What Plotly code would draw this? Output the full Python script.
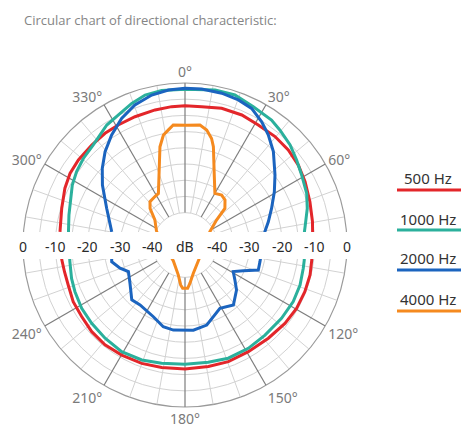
import plotly.graph_objects as go

# ---------------- data (angle in degrees clockwise from 0°, level in dB) ----------------
series_names = ["500 Hz", "1000 Hz", "2000 Hz", "4000 Hz"]
series_colors = ["#e3262a", "#2bb09c", "#1b64bf", "#f58a1f"]

red_theta = [276.1, 286.6, 295.3, 301.9, 308.6, 317.0, 324.4, 330.9, 338.7, 347.5, 354.5, 0, 6.9, 15.0,
             23.6, 31.4, 39.7, 47.4, 54.8, 62.2, 70.9, 79.6, 84.0, 96.8, 103.5, 111.3, 119.6, 128.1,
             138.2, 149.3, 159.6, 169.1, 180, 190.8, 200.1, 209.9, 218.7, 227.1, 235.3, 243.1, 251.1,
             257.5, 263.1, 276.1]
red_db = [-11.2, -10.3, -9.0, -8.2, -7.9, -7.8, -7.6, -7.6, -7.5, -7.3, -7.1, -7.0, -7.0, -6.3,
          -6.2, -6.6, -6.5, -6.7, -7.2, -8.1, -9.2, -10.0, -10.4, -10.6, -10.3, -10.3, -10.4, -10.8,
          -11.4, -11.7, -11.6, -11.8, -11.7, -11.5, -11.1, -10.8, -10.5, -10.7, -11.2, -11.3, -11.9,
          -11.9, -11.7, -11.2]

teal_theta = [276.5, 284.5, 298.0, 304.1, 310.4, 317.5, 326.9, 332.9, 339.4, 345.1, 351.4, 0, 11.0, 18.4,
              26.3, 34.7, 39.6, 46.4, 52.7, 59.0, 67.0, 73.3, 81.3, 83.6, 97.2, 101.2, 109.2, 117.6,
              127.2, 138.4, 148.5, 159.1, 168.8, 180, 191.2, 200.6, 210.7, 220.6, 230.0, 238.5, 247.0,
              253.6, 261.8, 276.5]
teal_db = [-13.8, -13.0, -10.6, -9.6, -8.8, -8.1, -5.8, -4.9, -3.3, -2.1, -1.8, -1.9, -1.3, -1.2,
           -2.4, -3.1, -4.0, -5.2, -6.7, -8.0, -9.2, -10.6, -12.5, -12.9, -12.9, -12.8, -12.4, -12.3,
           -12.6, -12.8, -12.6, -12.6, -13.1, -13.2, -12.8, -12.1, -11.7, -12.1, -12.4, -12.6, -13.1,
           -13.5, -14.1, -13.8]

blue_theta = [280.3, 295.1, 306.0, 312.8, 319.4, 326.3, 333.4, 340.3, 347.5, 353.9, 0, 6.1, 13.6, 20.2,
              26.0, 31.9, 37.1, 43.4, 52.1, 59.2, 67.1, 74.4, 80.5, 102.5, 108.8, 113.7, 118.9, 125.0,
              131.1, 141.1, 151.1, 158.4, 164.8, 174.4, 187.8, 194.9, 203.8, 216.9, 224.1, 235.1, 244.8,
              250.3, 257.2, 280.3]
blue_db = [-27.0, -23.3, -18.5, -15.2, -12.1, -9.2, -6.3, -4.1, -2.6, -1.9, -1.6, -1.6, -1.8, -2.3,
           -3.1, -5.2, -7.4, -10.3, -14.8, -17.9, -21.0, -23.3, -25.0, -26.3, -26.1, -30.3, -33.0, -31.2,
           -28.9, -26.2, -27.7, -26.2, -24.4, -23.6, -23.5, -23.9, -25.8, -26.9, -26.4, -29.3, -30.7,
           -28.7, -26.8, -27.0]

orange_theta = [295.2, 309.8, 316.3, 321.1, 328.2, 332.7, 339.6, 345.7, 348.9, 351.8, 354.4, 0.8, 7.1,
                10.7, 14.0, 16.1, 22.7, 30.1, 36.3, 41.6, 47.5, 51.7, 61.9, 140.2, 163.6, 172.6, 176.5,
                183.1, 186.2, 192.5, 216.1, 295.2]
orange_db = [-40.3, -37.9, -34.4, -32.8, -32.4, -32.1, -27.0, -18.7, -15.4, -14.1, -12.8, -13.0, -12.7,
             -13.9, -16.1, -18.4, -26.6, -31.6, -30.9, -31.4, -33.3, -37.6, -41.3, -43.6, -40.9, -38.1,
             -36.6, -36.6, -37.6, -40.5, -43.9, -40.3]

angle_ticks = list(range(0, 360, 30))
# 90° and 270° sit under the horizontal dB scale and are not shown
angle_labels = ["" if a in (90, 270) else f"{a}°" for a in angle_ticks]
db_labels = [0, -10, -20, -30, -40]
ring_vals = [-40, -35, -30, -25, -20, -15, -10, -5]

title_text = "Circular chart of directional characteristic:"

# ---------------- layout geometry ----------------
W, H = 461, 438
R_MIN, R_MAX = -50, 0
CX, CY, RAD = 185, 245, 162          # polar centre / radius in px
dom_x = [(CX - RAD) / W, (CX + RAD) / W]
dom_y = [1 - (CY + RAD) / H, 1 - (CY - RAD) / H]

fig = go.Figure()

# spokes (grid)
def spokes(angles):
    r, t = [], []
    for a in angles:
        r += [-40, 0, None]
        t += [a, a, None]
    return r, t

minor = [a for a in range(0, 360, 10) if a % 30]
r_s, t_s = spokes(minor)
fig.add_trace(go.Scatterpolar(r=r_s, theta=t_s, mode="lines",
                              line=dict(color="#d2d2d2", width=1), hoverinfo="skip"))
r_s, t_s = spokes(angle_ticks)
fig.add_trace(go.Scatterpolar(r=r_s, theta=t_s, mode="lines",
                              line=dict(color="#7d7d7d", width=1.2), hoverinfo="skip"))

all_theta = [red_theta, teal_theta, blue_theta, orange_theta]
all_db = [red_db, teal_db, blue_db, orange_db]
for name, col, th, db in zip(series_names, series_colors, all_theta, all_db):
    fig.add_trace(go.Scatterpolar(r=db, theta=th, mode="lines", name=name,
                                  line=dict(color=col, width=3)))

fig.update_layout(
    width=W, height=H, autosize=False,
    margin=dict(l=0, r=0, t=0, b=0),
    paper_bgcolor="white", plot_bgcolor="white",
    showlegend=False,
    polar=dict(
        domain=dict(x=dom_x, y=dom_y),
        bgcolor="white",
        radialaxis=dict(range=[R_MIN, R_MAX], tickvals=ring_vals, showticklabels=False,
                        ticks="", showline=False, gridcolor="#d2d2d2", gridwidth=1,
                        layer="below traces"),
        angularaxis=dict(rotation=90, direction="clockwise", tickvals=angle_ticks,
                         ticktext=angle_labels, showgrid=False, showline=True,
                         linecolor="#9a9a9a", linewidth=1.2, ticks="",
                         tickfont=dict(family="Noto Sans", size=14, color="#7a7a7a"),
                         layer="below traces"),
    ),
)

# white band behind the horizontal dB scale
band_top, band_bot = 232, 259
fig.add_shape(type="rect", xref="paper", yref="paper", layer="above",
              x0=0, x1=(CX + RAD + 20) / W, y0=1 - band_bot / H, y1=1 - band_top / H,
              fillcolor="white", line=dict(width=0))

label_font = dict(family="Noto Sans", size=14, color="#2a2a2a")
for v in db_labels:
    off = RAD * (v - R_MIN) / (R_MAX - R_MIN)
    for side in (-1, 1):
        fig.add_annotation(x=(CX + side * off) / W, y=1 - 246 / H, xref="paper", yref="paper",
                           text=str(v), showarrow=False, font=label_font,
                           xanchor="center", yanchor="middle")
fig.add_annotation(x=CX / W, y=1 - 246 / H, xref="paper", yref="paper", text="dB",
                   showarrow=False, font=label_font, xanchor="center", yanchor="middle")

# title
fig.add_annotation(x=22 / W, y=1 - 20 / H, xref="paper", yref="paper", text=title_text,
                   showarrow=False, xanchor="left", yanchor="middle",
                   font=dict(family="Open Sans", size=13, color="#858585"))

# custom legend: text above a coloured bar
leg_y_text = [178, 219, 258, 299]
leg_y_line = [190, 230, 270, 311]
for name, col, yt, yl in zip(series_names, series_colors, leg_y_text, leg_y_line):
    fig.add_annotation(x=428 / W, y=1 - yt / H, xref="paper", yref="paper", text=name,
                       showarrow=False, xanchor="center", yanchor="middle",
                       font=dict(family="Noto Sans", size=15, color="#333333"))
    fig.add_shape(type="line", xref="paper", yref="paper", x0=397 / W, x1=1.0,
                  y0=1 - yl / H, y1=1 - yl / H, line=dict(color=col, width=3))

fig.write_html("out.html", config={"displayModeBar": False},
               post_script="document.body.style.margin='0';")
